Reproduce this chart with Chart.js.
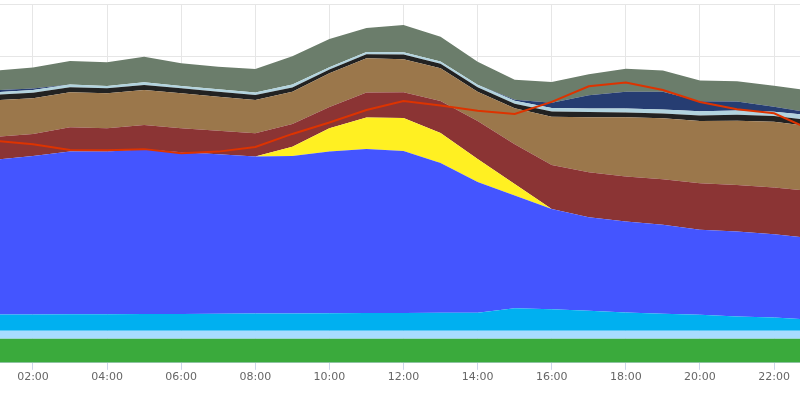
<!DOCTYPE html>
<html lang="en">
<head>
  <meta charset="UTF-8">
  <title>Generation mix by hour</title>
  <script src="https://cdn.jsdelivr.net/npm/chart.js"></script>
  <style>
    body {
      margin: 0;
      background: #fff;
    }
    #wrap {
      width: 800px;
      height: 399px;
    }
  </style>
</head>
<body>
  <div id="wrap">
    <canvas id="mixChart"></canvas>
  </div>

  <script>
    // hourly values, 01:00 .. 23:00 (MW)
    const hours = [1, 2, 3, 4, 5, 6, 7, 8, 9, 10, 11, 12, 13, 14, 15, 16, 17, 18, 19, 20, 21, 22, 23];
    const tickHours = [2, 4, 6, 8, 10, 12, 14, 16, 18, 20, 22];

    const green     = [453, 453, 453, 453, 453, 453, 453, 453, 453, 453, 453, 453, 453, 453, 453, 453, 453, 453, 453, 453, 453, 453, 453];
    const lightBlue = [151, 151, 151, 151, 151, 151, 151, 151, 151, 151, 151, 151, 151, 151, 151, 151, 151, 151, 151, 151, 151, 151, 151];
    const cyan      = [306, 309, 311, 313, 317, 319, 321, 325, 326, 330, 334, 336, 340, 343, 428, 409, 377, 345, 321, 302, 270, 251, 208];
    const blue      = [2926, 2992, 3072, 3070, 3111, 3053, 3013, 2964, 2975, 3053, 3100, 3060, 2830, 2468, 2128, 1892, 1768, 1717, 1679, 1604, 1604, 1574, 1538];
    const yellow    = [0, 0, 0, 0, 0, 0, 0, 0, 175, 442, 591, 623, 566, 434, 217, 0, 0, 0, 0, 0, 0, 0, 0];
    const darkRed   = [428, 415, 460, 442, 458, 453, 445, 442, 428, 402, 472, 485, 604, 717, 747, 830, 849, 849, 862, 881, 881, 879, 896];
    const brown     = [694, 674, 660, 660, 660, 660, 642, 628, 609, 636, 649, 623, 617, 553, 681, 911, 1038, 1121, 1151, 1175, 1213, 1245, 1217];
    const black     = [105, 104, 94, 94, 94, 94, 94, 94, 80, 70, 75, 88, 84, 82, 84, 98, 100, 90, 88, 105, 110, 105, 118];
    const pale      = [47, 51, 55, 45, 51, 45, 45, 45, 55, 42, 42, 42, 43, 47, 57, 66, 64, 75, 78, 80, 80, 80, 95];
    const navy      = [38, 28, 0, 0, 0, 0, 0, 0, 0, 0, 0, 0, 0, 0, 19, 100, 251, 315, 334, 189, 170, 94, 47];
    const grayGreen = [368, 396, 440, 447, 483, 428, 426, 447, 534, 534, 453, 515, 466, 434, 377, 391, 396, 434, 402, 391, 383, 400, 415];
    const demand    = [4189, 4126, 4019, 4013, 4034, 3957, 3987, 4075, 4321, 4538, 4774, 4943, 4858, 4760, 4698, 4925, 5221, 5292, 5151, 4925, 4787, 4711, 4396];

    const X_MIN = 1.11;
    const X_MAX = 22.7;
    const Y_MAX = 6774;
    const Y_STEP = 1000;

    const toPoints = arr => arr.map((v, i) => ({ x: hours[i], y: v }));

    function area(values, color, first) {
      return {
        data: toPoints(values),
        backgroundColor: color,
        borderColor: color,
        borderWidth: 0,
        pointRadius: 0,
        fill: first ? 'origin' : '-1',
        stack: 'mix',
        tension: 0
      };
    }

    const datasets = [
      {
        data: toPoints(demand),
        borderColor: '#dd3300',
        borderWidth: 2,
        pointRadius: 0,
        fill: false,
        stack: 'line',
        order: -1,
        tension: 0
      },
      area(green, '#3aaa3c', true),
      area(lightBlue, '#a8dcff'),
      area(cyan, '#00b0f0'),
      area(blue, '#4455ff'),
      area(yellow, '#fff022'),
      area(darkRed, '#8b3434'),
      area(brown, '#9b774b'),
      area(black, '#222222'),
      area(pale, '#b2d3de'),
      area(navy, '#263d72'),
      area(grayGreen, '#6b7d6b')
    ];

    new Chart(document.getElementById('mixChart'), {
      type: 'line',
      data: { datasets: datasets },
      options: {
        responsive: true,
        maintainAspectRatio: false,
        animation: false,
        layout: {
          padding: { top: 4, left: 0, right: 0, bottom: 14 }
        },
        plugins: {
          legend: { display: false },
          tooltip: { enabled: false }
        },
        scales: {
          x: {
            type: 'linear',
            min: X_MIN,
            max: X_MAX,
            afterBuildTicks: axis => {
              axis.ticks = tickHours.map(h => ({ value: h }));
            },
            grid: {
              color: '#e6e6e6',
              tickColor: '#ccd6eb',
              tickLength: 7
            },
            border: { color: '#ccd6eb' },
            ticks: {
              padding: 1,
              maxRotation: 0,
              color: '#666666',
              font: { family: 'DejaVu Sans', size: 11 },
              callback: v => String(v).padStart(2, '0') + ':00'
            }
          },
          y: {
            stacked: true,
            min: 0,
            max: Y_MAX,
            afterBuildTicks: axis => {
              const t = [];
              for (let v = Y_MAX; v >= 0; v -= Y_STEP) t.push({ value: v });
              axis.ticks = t;
            },
            grid: {
              color: '#e6e6e6',
              drawTicks: false
            },
            border: { display: false },
            ticks: { display: false }
          }
        }
      }
    });
  </script>
</body>
</html>
